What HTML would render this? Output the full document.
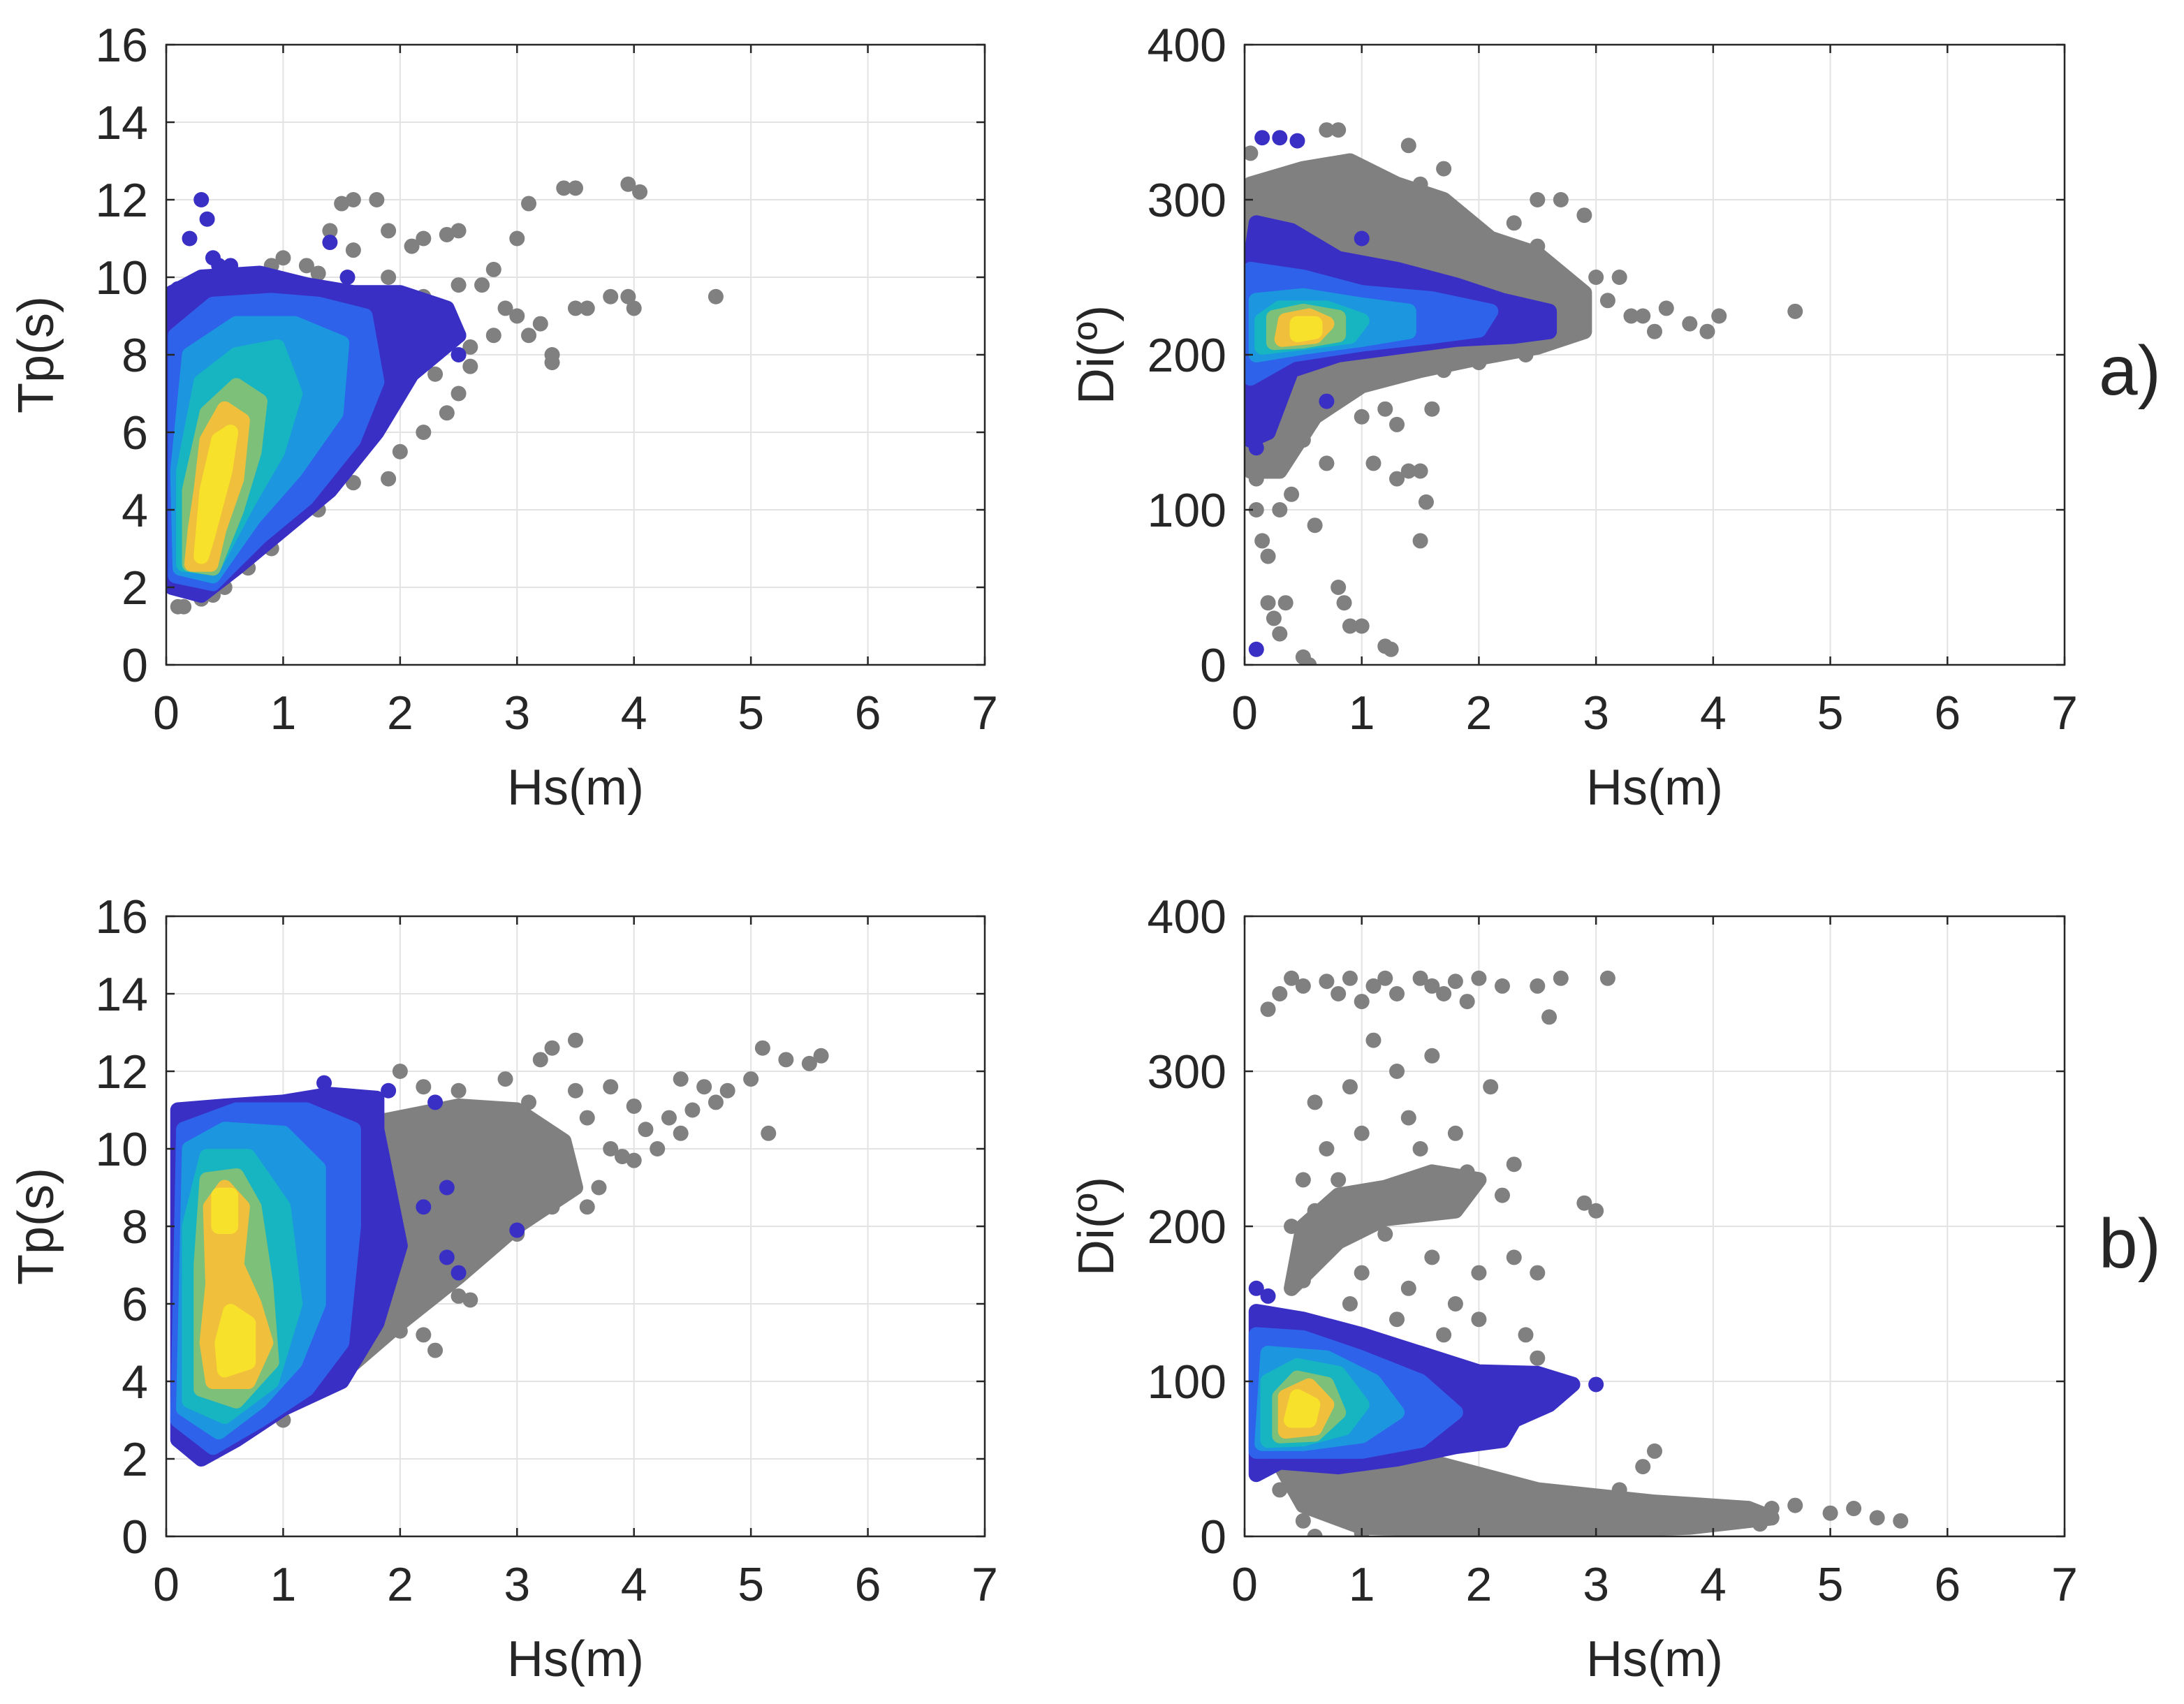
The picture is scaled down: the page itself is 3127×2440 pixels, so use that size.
<!DOCTYPE html>
<html><head><meta charset="utf-8"><style>
html,body{margin:0;padding:0;background:#fff}
svg{display:block}
text{font-family:"Liberation Sans",Arial,sans-serif;fill:#262626}
</style></head><body>
<svg id="fig" width="3127" height="2440" viewBox="0 0 3127 2440" xmlns="http://www.w3.org/2000/svg"></svg>
<script>
// ---------- DATA ----------
const xTicks = [0,1,2,3,4,5,6,7];
const tpTicks = [0,2,4,6,8,10,12,14,16];
const diTicks = [0,100,200,300,400];
const levelColors = ["#3a2fc4","#2f62ea","#1c97df","#17b4c2","#7cc07a","#f0bf3c","#f7e12b"];

// Panel a) Hs vs Tp
const aTpGrey = [[0.1,1.5],[0.15,1.5],[0.3,1.7],[0.5,2],[0.7,2.5],[1,3.5],[1.3,4],[1.6,4.7],[1.9,4.8],[2,5.5],[2.2,6],[2.4,6.5],[2.5,7],[2.6,7.7],[2.8,8.5],[3,9],[3.1,8.5],[3.2,8.8],[3.3,8],[3.5,9.2],[3.6,9.2],[3.8,9.5],[3.95,9.5],[4,9.2],[4.7,9.5],[3,11],[3.1,11.9],[3.4,12.3],[3.5,12.3],[3.95,12.4],[4.05,12.2],[2.5,11.2],[2.4,11.1],[2.2,11],[2.1,10.8],[1.8,12],[1.6,12],[1.5,11.9],[1.4,11.2],[1.2,10.3],[1.9,10],[2,9],[2.1,8],[2.3,7.5],[2.5,9.8],[2.7,9.8],[2.2,9.5],[1.8,8.5],[1.7,7],[1.8,6.5],[2,7],[0.7,10],[0.9,10.3],[1,10.5],[1.3,10.1],[2.6,8.2],[2.9,9.2],[3.3,7.8],[1.5,5.5],[1.2,4.5],[0.9,3],[0.4,1.8],[2.3,8.8],[2.8,10.2],[1.6,10.7],[1.9,11.2]];
const aTpBlue = [[0.3,12],[0.35,11.5],[0.4,10.5],[0.45,10.3],[0.2,11],[0.55,10.3],[1.4,10.9],[1.55,10],[0.7,3.8],[0.9,3.7],[1.1,4.2],[2.5,8],[2.2,9],[2.5,8.5],[2.3,8.3],[0.05,9.6],[0.1,9.7]];
const aTpBlobs = [
 {lv:0,pts:[[0.05,2],[0.3,1.8],[0.6,2.5],[1.0,3.5],[1.4,4.5],[1.8,6],[2.1,7.5],[2.5,8.5],[2.4,9.2],[2.0,9.6],[1.6,9.6],[1.2,9.8],[0.8,10.1],[0.3,10],[0.05,9.6]]},
 {lv:1,pts:[[0.08,2.3],[0.4,2.1],[0.8,3.3],[1.2,4.3],[1.6,5.8],[1.8,7.3],[1.7,9],[1.3,9.3],[0.9,9.4],[0.4,9.3],[0.08,8.5]]},
 {lv:2,pts:[[0.12,2.5],[0.4,2.3],[0.75,3.8],[1.1,5],[1.45,6.5],[1.5,8.3],[1.1,8.8],[0.6,8.8],[0.2,8],[0.1,5]]},
 {lv:3,pts:[[0.15,2.6],[0.4,2.5],[0.7,4.2],[0.95,5.5],[1.1,7],[0.95,8.2],[0.6,8],[0.3,7.3],[0.15,5]]},
 {lv:4,pts:[[0.2,2.6],[0.4,2.5],[0.6,4],[0.75,5.5],[0.8,6.8],[0.6,7.2],[0.35,6.5],[0.2,4.5]]},
 {lv:5,pts:[[0.22,2.6],[0.38,2.6],[0.45,3.5],[0.6,4.8],[0.65,6.3],[0.5,6.6],[0.35,5.8],[0.3,4.5],[0.25,3.5]]},
 {lv:6,pts:[[0.3,2.8],[0.35,3.3],[0.5,5],[0.55,6],[0.45,5.8],[0.35,4.5]]}
];

// Panel a) Hs vs Di
const aDiGrey = [[0.1,100],[0.15,80],[0.2,40],[0.25,30],[0.3,20],[0.35,40],[0.5,5],[0.55,0],[0.7,130],[0.8,50],[0.85,40],[0.9,25],[1,25],[1.2,12],[1.25,10],[1.5,80],[1.55,105],[1.3,120],[1.4,125],[1.5,125],[1.1,130],[1.0,160],[1.2,165],[1.3,155],[1.6,165],[0.3,100],[0.4,110],[0.6,90],[0.2,70],[3.5,215],[3.6,230],[3.8,220],[3.95,215],[4.05,225],[4.7,228],[3.4,225],[3.3,225],[3.0,250],[3.2,250],[2.9,290],[2.7,300],[2.5,300],[0.05,330],[0.7,345],[0.8,345],[1.4,335],[1.7,320],[2.0,280],[2.3,285],[2.5,270],[0.1,120],[0.2,125],[0.4,140],[0.6,160],[0.9,175],[1.1,290],[1.3,300],[1.5,310],[0.9,320],[0.6,300],[1.8,290],[2.1,265],[2.6,250],[2.8,240],[3.1,235],[2.4,200],[2.0,195],[1.7,190],[0.3,130],[0.5,145]];
const aDiGreyBlobs = [
 {pts:[[0.05,125],[0.3,125],[0.6,160],[1,180],[1.5,190],[2,198],[2.5,205],[2.9,215],[2.9,240],[2.5,265],[2.1,275],[1.7,300],[1.3,310],[0.9,325],[0.5,320],[0.05,310]]}
];
const aDiBlue = [[0.1,10],[0.15,340],[0.3,340],[0.45,338],[0.2,150],[0.25,160],[0.7,170],[1.0,275],[2.55,218],[2.5,225],[0.1,140]];
const aDiBlobs = [
 {lv:0,pts:[[0.05,145],[0.2,150],[0.4,190],[0.8,200],[1.3,205],[1.8,210],[2.3,212],[2.6,215],[2.6,228],[2.2,235],[1.8,245],[1.3,255],[0.8,262],[0.4,280],[0.1,285],[0.05,260]]},
 {lv:1,pts:[[0.05,185],[0.4,200],[1,207],[1.6,212],[2,216],[2.1,228],[1.6,236],[1,240],[0.5,250],[0.05,255]]},
 {lv:2,pts:[[0.1,200],[0.5,205],[1,210],[1.4,215],[1.4,228],[1,232],[0.5,238],[0.1,235]]},
 {lv:3,pts:[[0.15,205],[0.5,208],[0.9,212],[1.0,222],[0.7,230],[0.3,230],[0.15,222]]},
 {lv:4,pts:[[0.25,208],[0.5,209],[0.8,213],[0.8,224],[0.5,228],[0.25,224]]},
 {lv:5,pts:[[0.32,210],[0.6,212],[0.7,220],[0.55,225],[0.35,222]]},
 {lv:6,pts:[[0.45,213],[0.6,215],[0.6,220],[0.45,220]]}
];

// Panel b) Hs vs Tp
const bTpGrey = [[2.2,5.2],[2.0,5.3],[2.5,6.2],[3,7.8],[3.6,8.5],[3.7,9],[4.0,9.7],[4.2,10],[4.1,10.5],[4.3,10.8],[4.5,11],[4.7,11.2],[4.8,11.5],[5,11.8],[5.1,12.6],[5.3,12.3],[5.5,12.2],[5.6,12.4],[5.15,10.4],[4.6,11.6],[4.4,11.8],[4.0,11.1],[3.8,11.6],[3.5,12.8],[3.3,12.6],[3.2,12.3],[3.5,11.5],[3.8,10],[3.4,9.5],[2.8,9],[1.0,3],[0.8,3],[2.3,4.8],[2.6,6.1],[3.2,10.5],[3.9,9.8],[4.4,10.4],[2.0,12],[2.5,11.5],[3.3,8.5],[3.6,10.8],[2.9,11.8],[3.1,11.2],[2.2,11.6]];
const bTpGreyBlobs = [
 {pts:[[1.0,3.5],[1.5,4.2],[2,5.5],[2.5,6.7],[3,8],[3.5,9],[3.4,10.2],[3.0,11],[2.5,11.1],[2,10.8],[1.5,10.5],[1.2,9]]}
];
const bTpBlue = [[2.5,6.8],[2.4,7.2],[3,7.9],[2.2,8.5],[1.6,9.7],[1.9,11.5],[2.3,11.2],[2.4,9],[1.7,8.5],[1.35,11.7]];
const bTpBlobs = [
 {lv:0,pts:[[0.1,2.5],[0.3,2],[0.6,2.5],[1,3.3],[1.5,4],[1.8,5.5],[2.0,7.5],[1.9,9],[1.8,10.5],[1.8,11.3],[1.4,11.4],[1,11.2],[0.5,11.1],[0.1,11]]},
 {lv:1,pts:[[0.1,3],[0.4,2.3],[0.8,3],[1.2,3.8],[1.5,5],[1.6,8],[1.6,10.5],[1.2,11],[0.6,11],[0.15,10.5]]},
 {lv:2,pts:[[0.15,3.3],[0.45,2.7],[0.8,3.5],[1.1,4.5],[1.3,6],[1.3,9.5],[1,10.4],[0.5,10.5],[0.2,10]]},
 {lv:3,pts:[[0.2,3.5],[0.5,3.1],[0.9,4],[1.1,6],[1.0,8.5],[0.7,9.8],[0.35,9.8],[0.2,8]]},
 {lv:4,pts:[[0.3,3.8],[0.6,3.5],[0.9,4.5],[0.85,6.5],[0.75,8.5],[0.6,9.3],[0.35,9.2],[0.3,7]]},
 {lv:5,pts:[[0.4,4],[0.7,4],[0.85,5],[0.75,6],[0.6,7],[0.65,8.5],[0.5,9],[0.38,8.5],[0.4,6.5],[0.35,5]]},
 {lv:6,pts:[[0.5,4.3],[0.7,4.5],[0.7,5.5],[0.55,5.8],[0.48,5]]},
 {lv:6,pts:[[0.45,8],[0.55,8],[0.55,8.8],[0.45,8.8]]}
];

// Panel b) Hs vs Di
const bDiGrey = [[0.2,340],[0.3,350],[0.4,360],[0.5,355],[0.7,358],[0.8,350],[0.9,360],[1.0,345],[1.1,355],[1.2,360],[1.3,350],[1.5,360],[1.6,355],[1.7,350],[1.8,358],[1.9,345],[2.0,360],[2.2,355],[2.5,355],[2.7,360],[2.6,335],[3.1,360],[1.1,320],[1.3,300],[0.9,290],[1.6,310],[2.1,290],[0.6,280],[0.7,250],[1.0,260],[1.4,270],[1.8,260],[0.8,230],[1.2,225],[1.5,215],[1.9,235],[2.2,220],[0.6,210],[0.9,200],[1.2,195],[1.6,180],[2.0,170],[2.3,180],[2.5,170],[2.9,215],[3.0,210],[0.7,185],[1.0,170],[1.4,160],[1.8,150],[2.0,140],[2.4,130],[2.5,115],[2.7,100],[0.5,165],[0.9,150],[1.3,140],[1.7,130],[3.5,55],[3.4,45],[3.2,30],[3.7,20],[4.0,15],[4.2,12],[4.5,18],[4.7,20],[5.0,15],[5.2,18],[5.4,12],[5.6,10],[3.8,10],[4.4,8],[0.6,0],[1.0,2],[1.5,0],[2.0,0],[2.5,3],[3.0,0],[2.8,20],[2.4,30],[0.3,30],[0.5,10],[2.2,25],[1.6,40],[1.4,120],[1.1,110],[0.8,130],[0.5,230],[0.4,200],[1.5,250],[2.3,240]];
const bDiGreyBlobs = [
 {pts:[[0.2,60],[0.5,20],[1,6],[2,4],[3,4],[3.8,6],[4.5,12],[4.3,18],[3.5,22],[3,26],[2.5,30],[2,40],[1.5,50],[1,55]]},
 {pts:[[0.4,160],[0.8,190],[1.2,205],[1.8,210],[2.0,230],[1.6,235],[1.2,225],[0.8,220],[0.5,200]]}
];
const bDiBlue = [[0.1,160],[0.2,155],[3,98],[2.7,100],[2.2,105],[2.4,95],[1.9,65],[2.1,70]];
const bDiBlobs = [
 {lv:0,pts:[[0.1,40],[0.3,48],[0.8,45],[1.3,50],[1.8,58],[2.2,62],[2.3,75],[2.6,85],[2.8,98],[2.5,105],[2,106],[1.5,118],[1,130],[0.5,140],[0.1,145]]},
 {lv:1,pts:[[0.1,55],[0.4,55],[1,55],[1.5,62],[1.8,80],[1.5,100],[1,115],[0.5,128],[0.1,130]]},
 {lv:2,pts:[[0.15,60],[0.5,60],[1,65],[1.3,80],[1.1,100],[0.7,115],[0.2,118]]},
 {lv:3,pts:[[0.2,62],[0.5,63],[0.85,70],[1.0,85],[0.8,105],[0.45,110],[0.2,100]]},
 {lv:4,pts:[[0.3,65],[0.6,66],[0.8,80],[0.7,98],[0.45,102],[0.3,90]]},
 {lv:5,pts:[[0.35,68],[0.6,70],[0.7,85],[0.55,97],[0.35,90]]},
 {lv:6,pts:[[0.4,75],[0.55,75],[0.58,85],[0.45,90]]}
];

// ---------- DRAW ----------
const NS="http://www.w3.org/2000/svg";
const svg=document.getElementById('fig');
function mk(tag,attrs,parent){const e=document.createElementNS(NS,tag);for(const k in attrs)e.setAttribute(k,attrs[k]);(parent||svg).appendChild(e);return e;}

function panel(name,L,T,R,B,yMax,yTicks,yLabel,grey,greyBlobs,blue,blobs){
  const g=mk('g',{});
  
  
  const sx=v=>L+(v/7)*(R-L);
  const sy=v=>B-(v/yMax)*(B-T);
  mk('rect',{x:L,y:T,width:R-L,height:B-T,fill:'#fff'},g);
  const grid=mk('g',{stroke:'#e3e3e3','stroke-width':2},g);
  
  
  xTicks.forEach(t=>mk('line',{x1:sx(t),x2:sx(t),y1:T,y2:B},grid));
  yTicks.forEach(t=>mk('line',{x1:L,x2:R,y1:sy(t),y2:sy(t)},grid));
  const clip='clip-'+name;
  const cp=mk('clipPath',{id:clip},g);mk('rect',{x:L,y:T,width:R-L,height:B-T},cp);
  const data=mk('g',{'clip-path':'url(#'+clip+')'},g);
  const poly=(pts,col)=>{const p=mk('polygon',{points:pts.map(q=>sx(q[0])+','+sy(q[1])).join(' '),fill:col,stroke:col,'stroke-width':22,'stroke-linejoin':'round'},data);return p;};
  greyBlobs.forEach(b=>{const p=poly(b.pts,'#808080');
    
    });
  grey.forEach(d=>{const c=mk('circle',{cx:sx(d[0]),cy:sy(d[1]),r:11,fill:'#808080'},data);
    
    });
  blue.forEach(d=>{const c=mk('circle',{cx:sx(d[0]),cy:sy(d[1]),r:11,fill:levelColors[0]},data);
    
    });
  blobs.forEach(b=>{const p=poly(b.pts,levelColors[b.lv]);
    
    });
  const box=mk('rect',{x:L,y:T,width:R-L,height:B-T,fill:'none',stroke:'#262626','stroke-width':2.5},g);
  
  
  xTicks.forEach(t=>{mk('line',{x1:sx(t),x2:sx(t),y1:B,y2:B-12,stroke:'#262626','stroke-width':2.5},g);mk('line',{x1:sx(t),x2:sx(t),y1:T,y2:T+12,stroke:'#262626','stroke-width':2.5},g);
    const tx=mk('text',{x:sx(t),y:B+92,'font-size':68,'text-anchor':'middle'},g);tx.textContent=t;
    
    });
  yTicks.forEach(t=>{mk('line',{x1:L,x2:L+12,y1:sy(t),y2:sy(t),stroke:'#262626','stroke-width':2.5},g);mk('line',{x1:R,x2:R-12,y1:sy(t),y2:sy(t),stroke:'#262626','stroke-width':2.5},g);
    const tx=mk('text',{x:L-26,y:sy(t)+24,'font-size':68,'text-anchor':'end'},g);tx.textContent=t;
    
    });
  const xl=mk('text',{x:(L+R)/2,y:B+200,'font-size':72,'text-anchor':'middle'},g);xl.textContent='Hs(m)';
  
  
  const yx=L-(yMax>100?188:162), yy=(T+B)/2;
  const yl=mk('text',{x:yx,y:yy,'font-size':72,'text-anchor':'middle',transform:'rotate(-90 '+yx+' '+yy+')'},g);yl.textContent=yLabel;
  
  
}
panel('panel-a-hs-tp',238,64,1410,952,16,tpTicks,'Tp(s)',aTpGrey,[],aTpBlue,aTpBlobs);
panel('panel-a-hs-di',1782,64,2956,952,400,diTicks,'Di(º)',aDiGrey,aDiGreyBlobs,aDiBlue,aDiBlobs);
panel('panel-b-hs-tp',238,1312,1410,2200,16,tpTicks,'Tp(s)',bTpGrey,bTpGreyBlobs,bTpBlue,bTpBlobs);
panel('panel-b-hs-di',1782,1312,2956,2200,400,diTicks,'Di(º)',bDiGrey,bDiGreyBlobs,bDiBlue,bDiBlobs);
const la=mk('text',{x:3005,y:565,'font-size':100},svg);la.textContent='a)';


const lb=mk('text',{x:3005,y:1815,'font-size':100},svg);lb.textContent='b)';


</script>
</body></html>
